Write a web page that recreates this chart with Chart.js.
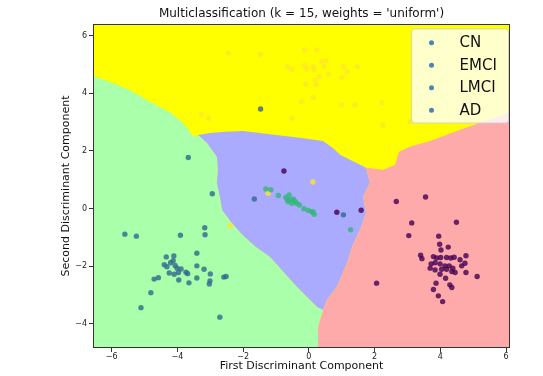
<!DOCTYPE html>
<html><head><meta charset="utf-8">
<script src="https://cdn.jsdelivr.net/npm/chart.js@4.4.0/dist/chart.umd.min.js"></script>
<style>html,body{margin:0;padding:0;background:#fff}#wrap{width:543px;height:376px}</style>
</head><body><div id="wrap"><canvas id="c" width="543" height="376"></canvas></div>
<script>
// ---------- data ----------
const categories = ['CN', 'EMCI', 'LMCI', 'AD'];
const titleText = "Multiclassification (k = 15, weights = 'uniform')";
const xAxisLabel = 'First Discriminant Component';
const yAxisLabel = 'Second Discriminant Component';

const CN = [[-0.76,1.30],[0.85,-0.13],[1.59,-0.06],[2.06,-2.59],[3.55,0.40],[2.66,0.24],[3.13,-0.50],[4.49,-0.48],[3.04,-0.94],[3.95,-0.96],[3.98,-1.24],[4.24,-1.34],[4.02,-1.44],[3.40,-1.62],[3.44,-1.74],[3.79,-1.67],[3.89,-1.72],[4.01,-1.70],[4.19,-1.70],[4.32,-1.72],[4.42,-1.69],[4.60,-1.78],[4.78,-1.64],[3.72,-1.92],[3.84,-1.88],[3.99,-1.92],[4.14,-1.99],[4.27,-1.99],[4.38,-2.07],[4.65,-1.99],[4.75,-1.90],[3.69,-2.07],[3.84,-2.13],[4.04,-2.11],[4.19,-2.11],[4.35,-2.19],[4.45,-2.22],[3.99,-2.28],[4.78,-2.22],[4.16,-2.42],[5.12,-2.36],[3.87,-2.59],[4.29,-2.65],[4.35,-2.74],[3.79,-2.81],[3.94,-3.03],[4.07,-3.23]];
const EMCI = [[-5.60,-0.89],[-5.25,-0.96],[-3.91,-0.93],[-3.17,-0.67],[-3.16,-0.91],[-3.41,-1.55],[-4.34,-1.68],[-4.11,-1.65],[-4.40,-1.95],[-4.32,-2.02],[-4.21,-1.88],[-4.13,-1.81],[-4.07,-1.98],[-4.01,-2.07],[-3.89,-2.10],[-4.25,-2.24],[-4.10,-2.28],[-3.97,-2.22],[-3.96,-2.48],[-3.74,-2.21],[-3.69,-2.26],[-3.41,-1.99],[-3.19,-2.11],[-3.00,-2.27],[-3.41,-2.41],[-3.65,-2.58],[-3.01,-2.51],[-3.03,-2.62],[-2.59,-2.38],[-2.52,-2.36],[-4.71,-2.45],[-4.58,-2.40],[-4.81,-2.92],[-5.11,-3.44],[-2.71,-3.77],[-3.67,1.77],[-2.94,0.51],[-1.66,0.33],[1.05,-0.22],[-1.47,3.45]];
const LMCI = [[-1.31,0.68],[-1.16,0.65],[-0.93,0.45],[-0.70,0.39],[-0.60,0.47],[-0.66,0.30],[-0.55,0.30],[-0.47,0.32],[-0.42,0.24],[-0.37,0.18],[-0.29,0.12],[-0.52,0.18],[-0.63,0.24],[-0.15,-0.01],[-0.02,-0.07],[0.09,-0.11],[0.16,-0.20],[0.13,-0.12],[1.27,-0.74]];
const AD = [[-2.45,5.39],[-1.47,5.35],[-0.12,5.50],[0.24,5.50],[-0.66,4.92],[-0.52,4.83],[-0.14,4.96],[-0.07,4.84],[0.13,4.92],[0.16,4.81],[0.39,5.10],[0.52,5.12],[0.46,4.92],[0.59,4.66],[0.32,4.58],[0.19,4.46],[-0.09,4.31],[0.22,4.29],[1.05,4.92],[1.17,4.75],[1.47,4.92],[1.00,4.54],[0.13,3.85],[-0.22,3.71],[1.00,3.59],[1.40,3.59],[2.22,3.67],[2.25,2.88],[-0.52,3.13],[-3.06,3.13],[-3.26,3.25],[3.08,3.01],[0.12,0.92],[-1.24,0.53],[-2.40,-0.60]];
const seriesData = [CN, EMCI, LMCI, AD];

const xTicks = [-6, -4, -2, 0, 2, 4, 6];
const xTickLabels = ['\u22126', '\u22124', '\u22122', '0', '2', '4', '6'];
const yTicks = [-4, -2, 0, 2, 4, 6];
const yTickLabels = ['\u22124', '\u22122', '0', '2', '4', '6'];

// decision-region boundaries (data coordinates)
const boundYG = [[-7,4.75],[-6.57,4.60],[-6.05,4.39],[-5.45,4.11],[-4.84,3.70],[-4.24,3.35],[-3.83,2.97],[-3.62,2.66],[-3.53,2.50],[-3.37,2.55]];
const boundGB = [[-3.37,2.55],[-3.10,2.27],[-2.80,1.79],[-2.77,1.34],[-2.80,0.89],[-2.71,0.40],[-2.64,-0.05],[-2.37,-0.47],[-2.01,-0.93],[-1.61,-1.34],[-1.18,-1.68],[-0.36,-2.72],[0.25,-3.42],[0.43,-3.52]];
const boundGR = [[0.43,-3.52],[0.28,-4.11],[0.28,-6]];
const boundBY = [[-3.37,2.55],[-3.01,2.62],[-2.55,2.66],[-2.01,2.69],[-1.49,2.62],[-1.00,2.55],[-0.27,2.45],[0.43,2.34],[0.73,2.10],[0.95,1.86],[1.25,1.69],[1.74,1.41]];
const boundBR = [[1.74,1.41],[1.86,0.89],[1.65,0.40],[1.74,-0.15],[1.56,-0.74],[1.34,-1.26],[1.16,-1.89],[0.85,-2.72],[0.55,-3.17],[0.43,-3.52]];
const boundYR = [[1.74,1.41],[2.25,1.34],[2.62,1.51],[2.74,1.96],[3.07,2.14],[3.69,2.34],[4.60,2.73],[5.21,2.97],[5.82,3.21],[6.18,3.39],[7,3.7]];

const pointColors = ['rgba(68,1,84,0.8)', 'rgba(49,104,142,0.8)', 'rgba(53,183,121,0.8)', 'rgba(253,231,37,0.8)'];
const regionColors = { yellow: '#ffff00', green: '#aaffaa', blue: '#aaaaff', red: '#ffaaaa' };
const FONT = 'DejaVu Sans';

const rev = a => a.slice().reverse();
const greenPoly = [...boundYG, ...boundGB, ...boundGR, [-7,-6]];
const bluePoly = [...boundBY, ...boundBR, ...rev(boundGB)];
const redPoly = [...boundYR, [7,-6], ...rev(boundGR), ...rev(boundBR)];

const regionPlugin = {
  id: 'regions',
  beforeDatasetsDraw(chart) {
    const { ctx, chartArea: a, scales: { x, y } } = chart;
    ctx.save();
    ctx.beginPath();
    ctx.rect(a.left, a.top, a.right - a.left, a.bottom - a.top);
    ctx.clip();
    ctx.fillStyle = regionColors.yellow;
    ctx.fillRect(a.left, a.top, a.right - a.left, a.bottom - a.top);
    const fillPoly = (poly, col) => {
      ctx.beginPath();
      poly.forEach((p, i) => {
        const px = x.getPixelForValue(p[0]), py = y.getPixelForValue(p[1]);
        if (i) ctx.lineTo(px, py); else ctx.moveTo(px, py);
      });
      ctx.closePath();
      ctx.fillStyle = col;
      ctx.fill();
    };
    fillPoly(greenPoly, regionColors.green);
    fillPoly(bluePoly, regionColors.blue);
    fillPoly(redPoly, regionColors.red);
    ctx.restore();
  },
  afterDatasetsDraw(chart) {
    const { ctx, chartArea: a } = chart;
    ctx.save();
    // frame
    ctx.strokeStyle = '#333';
    ctx.lineWidth = 1;
    ctx.strokeRect(Math.round(a.left) + 0.5, Math.round(a.top) + 0.5, Math.round(a.right - a.left) - 1, Math.round(a.bottom - a.top) - 1);
    // legend
    const lw = 97, lh = 94;
    const lx = a.right - lw - 1.5, ly = a.top + 5;
    ctx.beginPath();
    ctx.roundRect(lx, ly, lw, lh, 3);
    ctx.fillStyle = 'rgba(255,255,255,0.8)';
    ctx.fill();
    ctx.strokeStyle = 'rgba(204,204,204,0.8)';
    ctx.stroke();
    ctx.font = '15px "' + FONT + '"';
    ctx.textBaseline = 'middle';
    ctx.textAlign = 'left';
    categories.forEach((c, i) => {
      const ry = ly + 13.7 + i * 22.5;
      ctx.beginPath();
      ctx.arc(lx + 20, ry, 2.5, 0, Math.PI * 2);
      ctx.fillStyle = '#4685b5';
      ctx.fill();
      ctx.fillStyle = '#111';
      ctx.fillText(c, lx + 48, ry + 0.5);
    });
    ctx.restore();
  }
};

new Chart(document.getElementById('c'), {
  type: 'scatter',
  data: {
    datasets: categories.map((c, i) => ({
      label: c,
      data: seriesData[i].map(p => ({ x: p[0], y: p[1] })),
      backgroundColor: pointColors[i],
      borderWidth: 0,
      pointRadius: 2.7,
      pointHoverRadius: 2.7
    }))
  },
  options: {
    responsive: false,
    animation: false,
    events: [],
    layout: { padding: { left: 54, right: 33, top: 0, bottom: 0 } },
    plugins: {
      legend: { display: false },
      tooltip: { enabled: false },
      title: {
        display: true, text: titleText, fullSize: false, color: '#111',
        font: { family: FONT, size: 12, weight: 'normal' },
        padding: { top: 7, bottom: 2.6 }
      }
    },
    scales: {
      x: {
        type: 'linear', min: -6.57, max: 6.12,
        afterBuildTicks: s => { s.ticks = xTicks.map(v => ({ value: v })); },
        afterFit: s => { s.height = 28; },
        ticks: {
          autoSkip: false, maxRotation: 0, padding: 0, color: '#222',
          font: { family: FONT, size: 8 },
          callback: v => xTickLabels[xTicks.indexOf(v)]
        },
        grid: { drawOnChartArea: false, drawTicks: true, tickLength: 4, color: '#333' },
        border: { display: false },
        title: {
          display: true, text: xAxisLabel, color: '#111',
          font: { family: FONT, size: 11 }, padding: { top: 0, bottom: 3 }
        }
      },
      y: {
        type: 'linear', min: -4.84, max: 6.40,
        afterBuildTicks: s => { s.ticks = yTicks.map(v => ({ value: v })); },
        afterFit: s => { s.width = 39; },
        ticks: {
          autoSkip: false, padding: 2, color: '#222',
          font: { family: FONT, size: 8 },
          callback: v => yTickLabels[yTicks.indexOf(v)]
        },
        grid: { drawOnChartArea: false, drawTicks: true, tickLength: 4, color: '#333' },
        border: { display: false },
        title: {
          display: true, text: yAxisLabel, color: '#111',
          font: { family: FONT, size: 11 }, padding: { top: 6, bottom: 0 }
        }
      }
    }
  },
  plugins: [regionPlugin]
});
</script>
</body></html>
